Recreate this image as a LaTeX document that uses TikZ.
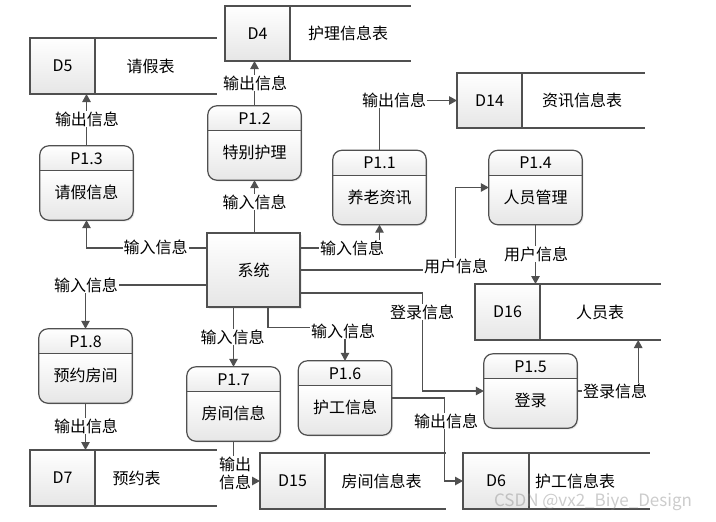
\documentclass[tikz,border=0pt]{standalone}
\usepackage{fontspec}
\setmainfont{Noto Sans CJK SC}
\usetikzlibrary{arrows.meta,shadows}
\definecolor{linec}{RGB}{80,80,80}
\definecolor{shadeb}{RGB}{230,230,230}
\definecolor{shadeh}{RGB}{236,236,236}
\newcommand\lblfont{\fontsize{16}{18}\selectfont}
\tikzset{
  edge/.style={draw=linec, line width=1.2pt},
  arr/.style={edge, -{Triangle[length=8pt,width=8.5pt]}},
  boxshadow/.style={drop shadow={opacity=0.15, shadow xshift=1.5pt, shadow yshift=-1.5pt}},
  proc/.style={fill=white, rounded corners=9pt,
    minimum width=93pt, minimum height=74pt, inner sep=0pt, boxshadow},
  sysbox/.style={draw=linec, line width=1.2pt, top color=white, bottom color=shadeb,
    minimum width=93pt, minimum height=74pt, inner sep=0pt, font=\lblfont, boxshadow},
  cell/.style={draw=linec, line width=1.2pt, top color=white, bottom color=shadeb,
    inner sep=0pt, outer sep=0pt, font=\lblfont},
  txt/.style={inner sep=0pt, font=\lblfont},
  lbl/.style={fill=white, inner sep=1pt, font=\lblfont},
}
% name, cx, cy, id, text
\newcommand\procbox[5]{%
  \node[proc] (#1) at (#2,#3) {};
  \begin{scope}
    \clip[rounded corners=9pt] (#1.north west) rectangle (#1.south east);
    \shade[top color=white, bottom color=shadeh] (#1.north west) rectangle ([yshift=-25pt]#1.north east);
    \shade[top color=white, bottom color=shadeb] ([yshift=-25pt]#1.north west) rectangle (#1.south east);
  \end{scope}
  \draw[edge, rounded corners=9pt] (#1.north west) rectangle (#1.south east);
  \draw[edge] ([yshift=-25pt]#1.north west) -- ([yshift=-25pt]#1.north east);
  \node[txt] (#1-id) at ([yshift=-12.5pt]#1.north) {#4};
  \node[txt] (#1-tx) at ([yshift=-47pt]#1.north) {#5};
}
% name, cx, cy, w, h, line length, id, label, label x
\newcommand\storebox[9]{%
  \node[cell, minimum width=#4pt, minimum height=#5pt] (#1) at (#2,#3) {#7};
  \draw[edge] (#1.north east) -- ++(#6,0);
  \draw[edge] (#1.south east) -- ++(#6,0);
  \node[txt] (#1-lbl) at (#9,#3) {#8};
}
\begin{document}
\begin{tikzpicture}[x=1pt,y=-1pt]
\useasboundingbox (0,0) rectangle (716,522);
\fill[white] (0,0) rectangle (716,522);

% data stores
\storebox{d4}{257.5}{33.5}{65}{55}{121}{D4}{护理信息表}{348}
\storebox{d5}{62.5}{66}{65}{56}{122}{D5}{请假表}{150.5}
\storebox{d14}{489.5}{100.5}{65}{55}{123}{D14}{资讯信息表}{582}
\storebox{d16}{507.5}{312}{65}{56}{121}{D16}{人员表}{600}
\storebox{d7}{62.5}{478}{65}{56}{122}{D7}{预约表}{136.5}
\storebox{d15}{292.5}{481}{65}{56}{121}{D15}{房间信息表}{381.5}
\storebox{d6}{496}{481}{66}{56}{121}{D6}{护工信息表}{575}

% processes
\procbox{p13}{86.5}{183}{P1.3}{请假信息}
\procbox{p12}{254.5}{143}{P1.2}{特别护理}
\procbox{p11}{379.5}{187.5}{P1.1}{养老资讯}
\procbox{p14}{535.5}{187.5}{P1.4}{人员管理}
\procbox{p18}{85.5}{366}{P1.8}{预约房间}
\procbox{p17}{233.5}{404}{P1.7}{房间信息}
\procbox{p16}{345}{398}{P1.6}{护工信息}
\procbox{p15}{530.5}{391}{P1.5}{登录}

% system
\node[sysbox] (sys) at (253.5,270) {系统};

% connectors
\draw[arr] (p12.south |- sys.north) -- (p12.south);
\draw[arr] (p12.north) -- (p12.north |- d4.south);
\draw[arr] (p13.north) -- (p13.north |- d5.south);
\draw[arr] ([yshift=22pt]sys.west) -| (p13.south);
\draw[arr] ([yshift=22pt]sys.east) -| (p11.south);
\draw[arr] (sys.east) -- ++(155,0) |- (p14.west);
\draw[arr] (p14.south) -- (p14.south |- d16.north);
\draw[arr] ([yshift=-23pt]sys.east) -- ++(122,0) |- (p15.west);
\draw[arr] (p15.east) -- ++(61,0) coordinate (k9) -- (k9 |- d16.south);
\draw[arr] ([yshift=-15pt]sys.west) -| (p18.north);
\draw[arr] (p18.south) -- (p18.south |- d7.north);
\draw[arr] (p17.north |- sys.south) -- (p17.north);
\draw[arr] ([xshift=14.5pt]sys.south) -- ++(0,20) -| (p16.north);
\draw[arr] (p17.south) |- (d15.west);
\draw[arr] (p16.east) -- ++(53,0) |- (d6.west);
\draw[arr] (p11.north) |- (d14.west);

% connector labels
\node[lbl] (l1) at (254.5,202) {输入信息};
\node[lbl] (l2) at (255,83) {输出信息};
\node[lbl] (l3) at (87,119) {输出信息};
\node[lbl] (l4) at (155.5,247) {输入信息};
\node[lbl] (l5) at (352,248) {输入信息};
\node[lbl] (l6) at (456,266) {用户信息};
\node[lbl] (l7) at (536,254) {用户信息};
\node[lbl] (l8) at (422,312) {登录信息};
\node[lbl] (l9) at (615,391) {登录信息};
\node[lbl] (l10) at (86,285) {输入信息};
\node[lbl] (l11) at (86,426) {输出信息};
\node[lbl] (l12) at (232.5,337) {输入信息};
\node[lbl] (l13) at (343,331) {输入信息};
\node[lbl, align=center] (l14) at (235,473) {输出\\信息};
\node[lbl] (l15) at (446,421) {输出信息};
\node[lbl] (l16) at (394,100) {输出信息};

% watermark
\node[txt, font=\fontsize{17}{19}\selectfont, text=gray, opacity=0.4] (wm) at (593,502) {CSDN @vx2\_Biye\_Design};
\end{tikzpicture}
\end{document}
